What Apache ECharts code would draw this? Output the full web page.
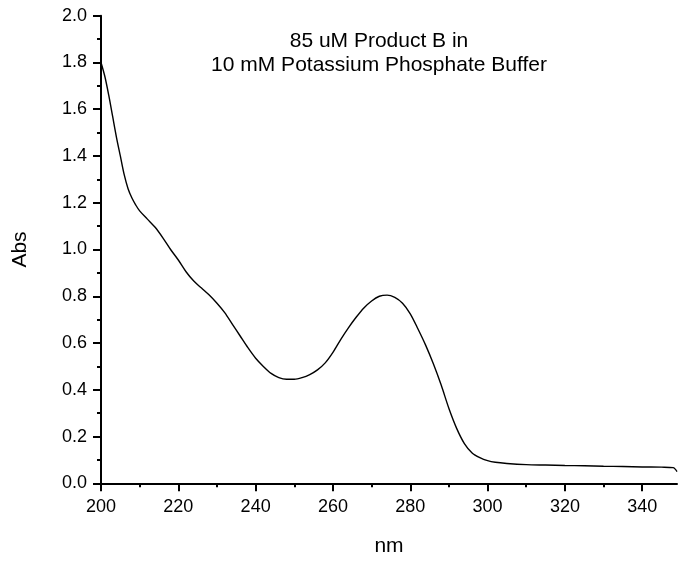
<!DOCTYPE html>
<html>
<head>
<meta charset="utf-8">
<script src="https://cdn.jsdelivr.net/npm/echarts@6/dist/echarts.min.js"></script>
<style>
  html, body { margin: 0; padding: 0; background: #fff; }
  #chart { width: 678px; height: 562px; }
</style>
</head>
<body>
<div id="chart"></div>
<script>
// Data
const wavelengths = [200,201,202,203,204,205,206,207,208,209,210,212,214,216,218,220,222,224,226,228,230,232,234,236,238,240,242,244,246,248,250,252,254,256,258,260,262,264,266,268,270,272,274,276,278,280,282,284,286,288,290,292,294,296,298,300,302,305,310,315,320,325,330,335,340,345,348,349];
const absorbance = [1.80,1.74,1.66,1.57,1.48,1.40,1.32,1.26,1.22,1.19,1.165,1.13,1.095,1.05,1.00,0.955,0.905,0.865,0.835,0.805,0.77,0.73,0.68,0.63,0.58,0.535,0.50,0.47,0.452,0.445,0.445,0.452,0.465,0.485,0.515,0.56,0.615,0.665,0.71,0.75,0.78,0.80,0.805,0.795,0.77,0.725,0.66,0.59,0.51,0.42,0.32,0.235,0.17,0.13,0.11,0.097,0.09,0.085,0.08,0.078,0.076,0.075,0.073,0.072,0.070,0.069,0.067,0.05];
const xMajorTicks = [200,220,240,260,280,300,320,340];
const xMinorTicks = [210,230,250,270,290,310,330];
const titleLines = ['85 uM Product B in', '10 mM Potassium Phosphate Buffer'];
const xName = 'nm';
const yName = 'Abs';

const FONT = 'Liberation Sans, Arial, Helvetica, sans-serif';
const chart = echarts.init(document.getElementById('chart'), null, { renderer: 'canvas' });

const axisLineStyle = { color: '#000', width: 2 };
chart.setOption({
  animation: false,
  backgroundColor: '#fff',
  title: {
    text: titleLines.join('\n'),
    left: 374,
    top: 24,
    textAlign: 'center',
    textStyle: { fontFamily: FONT, fontSize: 21, fontWeight: 'normal', color: '#000', lineHeight: 24 }
  },
  grid: { left: 101, right: 1, top: 15.7, bottom: 78.7, containLabel: false },
  xAxis: [
    {
      type: 'value', min: 200, max: 349, interval: 20, position: 'bottom',
      name: xName, nameLocation: 'middle', nameGap: 52,
      nameTextStyle: { fontFamily: FONT, fontSize: 21, color: '#000' },
      axisLine: { show: true, onZero: false, lineStyle: axisLineStyle },
      axisTick: { show: true, inside: false, length: 8, lineStyle: { color: '#000', width: 2 }, customValues: xMajorTicks },
      axisLabel: { fontFamily: FONT, fontSize: 18, color: '#000', margin: 15, customValues: xMajorTicks },
      splitLine: { show: false }
    },
    {
      type: 'value', min: 200, max: 349, position: 'bottom',
      axisLine: { show: false },
      axisTick: { show: true, inside: false, length: 4, lineStyle: { color: '#000', width: 2 }, customValues: xMinorTicks },
      axisLabel: { show: false },
      splitLine: { show: false }
    }
  ],
  yAxis: {
    type: 'value', min: 0, max: 2, interval: 0.2,
    name: yName, nameLocation: 'middle', nameGap: 70,
    nameTextStyle: { fontFamily: FONT, fontSize: 21, color: '#000' },
    axisLine: { show: true, onZero: false, lineStyle: axisLineStyle },
    axisTick: { show: true, inside: false, length: 8, lineStyle: { color: '#000', width: 2 } },
    minorTick: { show: true, splitNumber: 2, length: 4, lineStyle: { color: '#000', width: 2 } },
    axisLabel: { fontFamily: FONT, fontSize: 18, color: '#000', margin: 14, formatter: v => v.toFixed(1) },
    splitLine: { show: false }
  },
  series: [{
    type: 'line',
    xAxisIndex: 0,
    data: wavelengths.map((w, i) => [w, absorbance[i]]),
    showSymbol: false,
    smooth: 0.3,
    lineStyle: { color: '#000', width: 1.4 },
    clip: false
  }]
});
</script>
</body>
</html>
